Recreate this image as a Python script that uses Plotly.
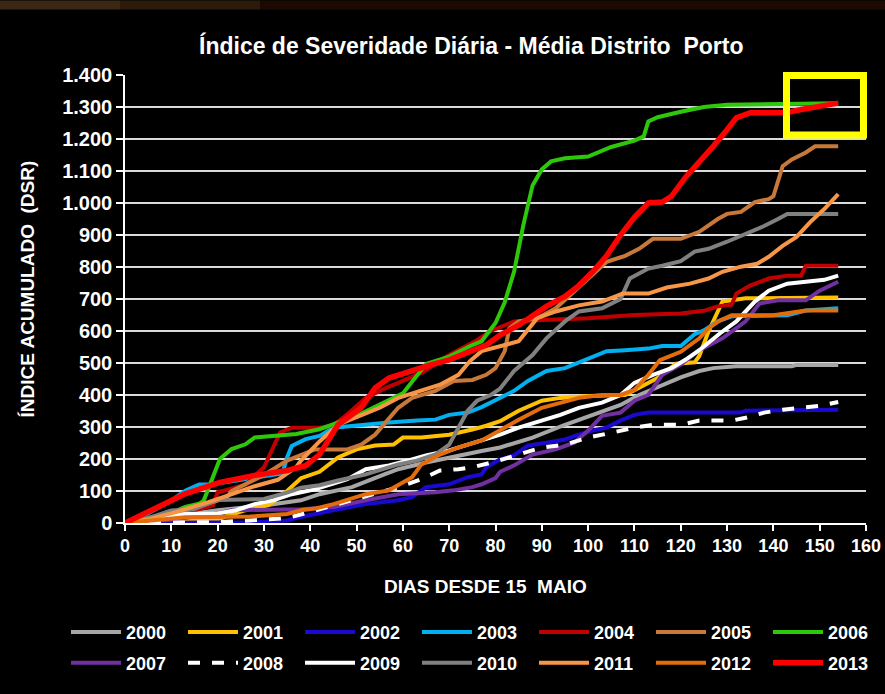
import plotly.graph_objects as go

years = ["2000", "2001", "2002", "2003", "2004", "2005", "2006",
         "2007", "2008", "2009", "2010", "2011", "2012", "2013"]

d2000 = [0, 10, 20, 30, 38, 42, 49, 56, 59, 65, 70, 75, 77, 81, 83, 88, 95, 102, 107, 111, 116, 120, 124, 127, 132, 144, 145, 154]
v2000 = [0, 20, 40, 55, 71, 90, 112, 152, 168, 189, 205, 218, 225, 236, 245, 267, 307, 345, 369, 400, 432, 455, 475, 484, 490, 490, 494, 494]

d2001 = [0, 10, 20, 26, 31, 35, 38, 42, 46, 50, 54, 58, 60, 64, 70, 72, 75, 78, 81, 85, 90, 94, 100, 108, 111, 115, 119, 123, 124, 126, 128, 129, 134, 154]
v2001 = [0, 3, 12, 40, 56, 100, 140, 160, 205, 230, 242, 245, 267, 267, 276, 282, 292, 304, 318, 351, 382, 391, 397, 400, 422, 453, 498, 502, 522, 599, 661, 692, 702, 705]

d2002 = [0, 20, 27, 35, 38, 45, 52, 59, 62, 65, 70, 74, 77, 78, 81, 84, 87, 91, 95, 98, 101, 104, 107, 110, 113, 133, 134, 154]
v2002 = [0, 0, 2, 8, 19, 40, 59, 71, 81, 112, 121, 143, 152, 174, 199, 211, 242, 251, 261, 276, 289, 298, 320, 338, 345, 345, 351, 354]

d2003 = [0, 5, 10, 13, 16, 18, 22, 27, 32, 34, 35, 36, 39, 42, 45, 49, 57, 63, 67, 70, 74, 77, 80, 84, 87, 91, 95, 100, 104, 108, 113, 116, 120, 123, 125, 128, 131, 143, 147, 154]
v2003 = [0, 30, 70, 101, 120, 120, 128, 138, 150, 155, 205, 241, 262, 272, 298, 304, 314, 320, 323, 338, 345, 362, 385, 413, 444, 475, 484, 515, 537, 540, 545, 553, 553, 590, 602, 630, 646, 649, 664, 671]

d2004 = [0, 10, 15, 19, 20, 22, 26, 30, 32, 33.5, 36, 42, 45, 48, 52, 56, 59, 64, 70, 76, 79, 84, 90, 100, 110, 120, 125, 128, 131, 132, 135, 139, 143, 146, 147, 154]
v2004 = [0, 25, 40, 55, 96, 103, 120, 174, 236, 283, 298, 298, 305, 340, 391, 420, 438, 469, 525, 571, 600, 630, 634, 640, 650, 655, 663, 677, 682, 717, 742, 764, 773, 773, 804, 804]

d2005 = [0, 10, 20, 22, 23, 30, 35, 38, 41, 48, 51, 54, 57, 59, 62, 67, 71, 75, 78, 80, 82, 83, 85, 89, 93, 96, 100, 104, 108, 111, 114, 120, 124, 128, 130, 133, 136, 139, 140, 141, 142, 144, 147, 149, 154]
v2005 = [0, 25, 70, 80, 100, 150, 195, 214, 230, 230, 245, 276, 329, 360, 391, 413, 444, 447, 463, 484, 537, 609, 630, 640, 671, 711, 764, 816, 835, 857, 888, 888, 910, 950, 966, 972, 1003, 1012, 1021, 1065, 1115, 1136, 1158, 1177, 1177]

d2006 = [0, 5, 10, 13, 16, 17, 19, 20.5, 23, 26, 28, 32, 37, 42, 45, 50, 55, 60, 65, 70, 75, 77, 80, 82, 84, 86, 88, 90, 92, 95, 100, 105, 110, 112, 113, 115, 120, 125, 130, 154]
v2006 = [0, 15, 32, 50, 60, 70, 143, 200, 231, 246, 267, 272, 278, 293, 310, 335, 370, 405, 497, 520, 556, 568, 625, 690, 785, 930, 1055, 1105, 1130, 1140, 1145, 1175, 1195, 1208, 1255, 1268, 1285, 1300, 1307, 1312]

d2007 = [0, 10, 20, 23, 38, 45, 52, 59, 67, 71, 75, 77, 80, 81, 84, 88, 93, 97, 100, 103, 107, 110, 113, 116, 120, 124, 129, 134, 137, 141, 147, 150, 154]
v2007 = [0, 10, 30, 40, 43, 50, 71, 90, 96, 102, 112, 121, 140, 160, 180, 214, 230, 251, 289, 335, 345, 382, 400, 463, 495, 540, 577, 630, 686, 696, 696, 726, 754]

d2008 = [0, 10, 20, 27, 35, 40, 45, 50, 55, 59, 64, 68, 72, 75, 80, 85, 90, 95, 100, 105, 110, 114, 120, 124, 131, 134, 138, 142, 147, 150, 154]
v2008 = [0, 0, 3, 8, 15, 35, 55, 75, 95, 112, 137, 164, 168, 174, 192, 214, 236, 245, 267, 282, 298, 307, 307, 320, 320, 329, 345, 354, 360, 366, 378]

d2009 = [0, 5, 13, 20, 24, 28, 32, 36, 41, 48, 52, 57, 61, 65, 70, 74, 78, 81, 85, 90, 94, 98, 103, 107, 110, 114, 118, 121, 124, 128.5, 132, 136, 139, 143, 147, 151, 154]
v2009 = [0, 8, 28, 30, 40, 59, 71, 90, 105, 137, 168, 180, 195, 211, 227, 245, 261, 276, 298, 320, 338, 360, 376, 400, 438, 463, 484, 510, 540, 593, 630, 692, 726, 748, 754, 760, 773]

d2010 = [0, 5, 10, 15, 20, 30, 35, 38, 42, 46, 52, 56, 59, 63, 67, 70, 72, 74, 76, 79, 81, 84, 88, 91, 95, 98, 103, 107, 109, 113, 116, 120, 123, 126, 130, 134, 138, 141, 143, 154]
v2010 = [0, 15, 39, 44, 72, 75, 95, 110, 118, 133, 152, 168, 183, 195, 214, 245, 298, 351, 382, 400, 420, 475, 525, 577, 630, 661, 671, 700, 764, 795, 804, 818, 848, 857, 879, 903, 928, 950, 966, 966]

d2011 = [0, 5, 10, 15, 18, 22, 28, 33, 37, 38, 42, 46, 51, 55, 59, 64, 68, 72, 74.5, 77, 81, 85, 89, 93, 98, 103, 107.5, 113, 117, 122, 126, 129, 133, 136.5, 139, 142, 145, 148, 151, 153, 154]
v2011 = [0, 12, 30, 50, 65, 85, 115, 135, 175, 195, 255, 307, 335, 360, 391, 413, 432, 463, 506, 537, 553, 568, 640, 661, 680, 692, 717, 717, 736, 748, 764, 785, 801, 810, 832, 866, 894, 941, 981, 1012, 1028]

d2012 = [0, 6, 13, 27, 35, 38, 41, 45, 52, 57, 60, 62, 64, 68, 72, 77, 81, 85, 90, 94, 98, 103, 107, 110, 113, 115.5, 120, 124, 126, 128.5, 131, 140, 146, 147, 154]
v2012 = [0, 8, 18, 20, 28, 40, 45, 59, 90, 102, 127, 143, 183, 214, 236, 258, 290, 323, 360, 376, 391, 400, 400, 416, 463, 509, 535, 577, 609, 633, 649, 649, 661, 664, 664]

d2013 = [0, 6, 13, 20.5, 27.7, 35, 39, 42, 46, 51, 54, 57, 59, 62, 66, 70, 74, 78, 81, 85, 91, 95, 98, 101, 104, 107, 110, 113, 116, 118, 121, 124, 127, 130, 132, 135, 143, 146, 149, 154]
v2013 = [0, 44, 91, 127, 148, 164, 179, 214, 307, 360, 422, 453, 463, 478, 494, 510, 531, 556, 587, 618, 677, 708, 742, 785, 835, 900, 955, 1000, 1003, 1021, 1080, 1127, 1177, 1229, 1266, 1282, 1283, 1292, 1301, 1312]

x_ticks = list(range(0, 161, 10))
y_ticks = list(range(0, 1401, 100))

series = {
    "2000": (d2000, v2000), "2001": (d2001, v2001), "2002": (d2002, v2002),
    "2003": (d2003, v2003), "2004": (d2004, v2004), "2005": (d2005, v2005),
    "2006": (d2006, v2006), "2007": (d2007, v2007), "2008": (d2008, v2008),
    "2009": (d2009, v2009), "2010": (d2010, v2010), "2011": (d2011, v2011),
    "2012": (d2012, v2012), "2013": (d2013, v2013),
}

colors = {
    "2000": "#A6A6A6", "2001": "#FFC000", "2002": "#1A0ACF", "2003": "#00B0F0",
    "2004": "#C00000", "2005": "#C8793A", "2006": "#2DC80A", "2007": "#7030A0",
    "2008": "#FFFFFF", "2009": "#FFFFFF", "2010": "#808080", "2011": "#F79646",
    "2012": "#E46C0A", "2013": "#FF0000",
}

FONT = "Liberation Sans, Arial, sans-serif"

fig = go.Figure()
for i, y in enumerate(years):
    dx, vy = series[y]
    width = 5.5 if y == "2013" else 4
    dash = "dash" if y == "2008" else "solid"
    fig.add_trace(go.Scatter(
        x=dx, y=vy, mode="lines", name=y,
        line=dict(color=colors[y], width=width, dash=dash),
        legend="legend" if i < 7 else "legend2",
        hoverinfo="skip",
    ))

# plot area in px: x 125..866, y 75..526
L, R, T, B = 125, 866, 75, 526
W, H = R - L, B - T
def px(xp):
    return (xp - L) / W
def py(yp):
    return (B - yp) / H

legend_common = dict(
    orientation="h", xanchor="left", yanchor="middle",
    entrywidth=52, entrywidthmode="pixels", itemwidth=50,
    font=dict(family=FONT, size=18, color="white", weight="bold"),
    bgcolor="rgba(0,0,0,0)", borderwidth=0, traceorder="normal",
)

top_strip = [(0, 120, "#3A2814"), (120, 260, "#2C1A0A"), (260, 885, "#1C0A02")]
shapes = [dict(type="rect", xref="paper", yref="paper",
               x0=px(a), x1=px(b), y0=py(9), y1=py(0),
               fillcolor=c, line=dict(width=0), layer="below")
          for a, b, c in top_strip]
shapes.append(dict(type="rect", xref="paper", yref="paper",
                   x0=px(786.5), x1=px(863.5), y0=py(135.5), y1=py(75.5),
                   line=dict(color="#FFFF00", width=7),
                   fillcolor="rgba(0,0,0,0)", layer="above"))

fig.update_layout(
    width=885, height=694,
    paper_bgcolor="black", plot_bgcolor="black",
    margin=dict(l=L, r=885 - R, t=T, b=694 - B),
    separators=",.",
    showlegend=True,
    legend=dict(x=px(71), y=py(636), **legend_common),
    legend2=dict(x=px(71), y=py(667), **legend_common),
    xaxis=dict(
        range=[0, 160], tickvals=x_ticks, ticks="outside", ticklen=6,
        tickcolor="white", tickwidth=1.5, showline=True, linecolor="white",
        linewidth=1.5, showgrid=False, zeroline=False, automargin=False,
        tickfont=dict(family=FONT, size=18, color="white", weight="bold"),
    ),
    yaxis=dict(
        range=[0, 1400], tickvals=y_ticks, tickformat=",d", ticks="outside",
        ticklen=7, tickcolor="white", tickwidth=1.5, showline=True,
        linecolor="white", linewidth=1.5, showgrid=True, gridcolor="#D9D9D9",
        gridwidth=1.5, zeroline=False, ticklabelstandoff=0, automargin=False,
        tickfont=dict(family=FONT, size=20, color="white", weight="bold"),
    ),
    annotations=[
        dict(text="<b>Índice de Severidade Diária - Média Distrito  Porto</b>",
             xref="paper", yref="paper", x=px(471), y=py(45),
             xanchor="center", yanchor="middle", showarrow=False,
             font=dict(family=FONT, size=23, color="white")),
        dict(text="<b>DIAS DESDE 15\u00a0 MAIO</b>",
             xref="paper", yref="paper", x=px(485), y=py(590),
             xanchor="center", yanchor="middle", showarrow=False,
             font=dict(family=FONT, size=19, color="white")),
        dict(text="<b>ÍNDICE ACUMULADO\u00a0 (DSR)</b>", textangle=-90,
             xref="paper", yref="paper", x=px(28), y=py(291),
             xanchor="center", yanchor="middle", showarrow=False,
             font=dict(family=FONT, size=19, color="white")),
    ],
    shapes=shapes,
)

fig.write_html(
    "out.html",
    config={"displayModeBar": False},
    post_script="document.body.style.margin='0';document.body.style.background='black';",
)
